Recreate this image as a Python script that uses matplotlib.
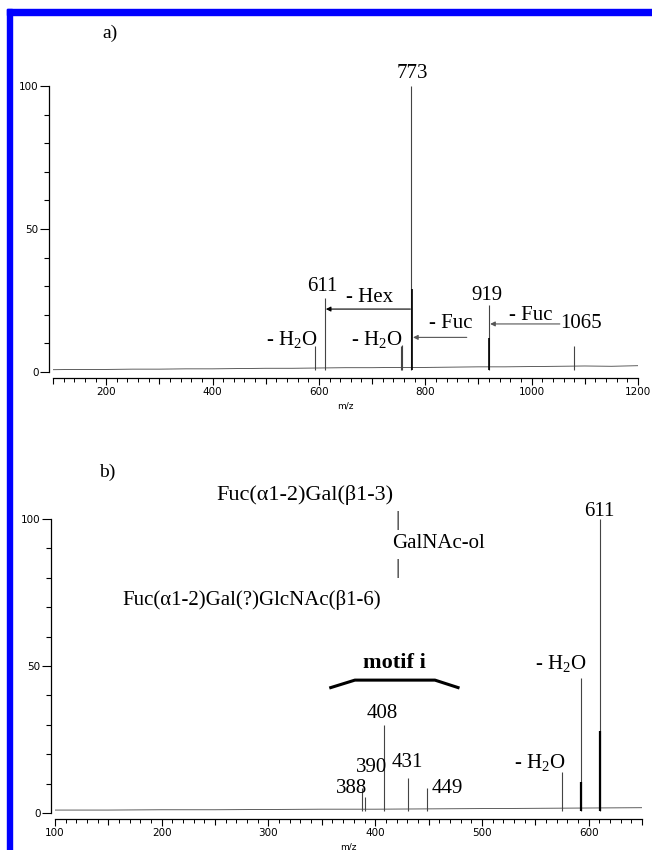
import numpy as np
import matplotlib.pyplot as plt
from matplotlib.patches import Rectangle
from matplotlib.ticker import MultipleLocator, NullLocator

plt.rcParams['font.family'] = ['Liberation Serif', 'DejaVu Serif']
plt.rcParams['mathtext.fontset'] = 'custom'
plt.rcParams['mathtext.rm'] = 'Liberation Serif'
plt.rcParams['mathtext.it'] = 'Liberation Serif:italic'

# ---- panel a data (m/z, relative intensity %) ----
a_mz = [593, 611, 755, 757, 773, 919, 1080]
a_int = [9.2, 26, 9.0, 9.5, 100, 23.5, 9.2]
a_strong_mz = [775, 920]
a_strong_int = [29, 12]
a_base_mz = [100, 150, 200, 250, 300, 350, 400, 450, 500, 550, 600, 650,
             700, 750, 800, 850, 900, 950, 1000, 1050, 1100, 1150, 1200]
a_base = [0.8, 0.9, 0.9, 1.0, 1.0, 1.1, 1.1, 1.2, 1.3, 1.3, 1.4, 1.5,
          1.5, 1.6, 1.6, 1.7, 1.8, 1.8, 1.9, 2.0, 2.1, 2.0, 2.2]

# ---- panel b data ----
b_mz = [388, 390, 408, 431, 449, 575, 593, 611]
b_int = [8.5, 5.5, 30, 12, 8.5, 14, 46, 100]
b_strong_mz = [593, 611]
b_strong_int = [10.5, 28]
b_base_mz = [100, 150, 200, 250, 300, 350, 400, 450, 500, 550, 600, 650]
b_base = [1.0, 1.0, 1.1, 1.1, 1.2, 1.3, 1.3, 1.4, 1.5, 1.6, 1.7, 1.8]

motif_x = [357, 381, 456, 479]
motif_y = [42.5, 45.2, 45.2, 42.5]

fig = plt.figure(figsize=(6.52, 8.5), dpi=100)

# blue frame strips
fig.patches.append(Rectangle((7/652, 0), 5/652, 1 - 9/850, transform=fig.transFigure,
                             color='#0000ff', zorder=0))
fig.patches.append(Rectangle((7/652, 1 - 15/850), 1, 6/850, transform=fig.transFigure,
                             color='#0000ff', zorder=0))

ax_a = fig.add_axes([53/652, (850-378)/850, 585/652, 292/850])
ax_b = fig.add_axes([55/652, (850-819)/850, 587/652, 300/850])


def style(ax, xlim, ylim, major, mid, minor, labels):
    ax.set_xlim(*xlim)
    ax.set_ylim(*ylim)
    ax.patch.set_alpha(0)
    for s in ['top', 'right']:
        ax.spines[s].set_visible(False)
    ax.spines['left'].set_bounds(0, 100)
    ax.spines['left'].set_position(('outward', 3))
    ax.spines['bottom'].set_bounds(*xlim)
    ax.spines['left'].set_linewidth(0.9)
    ax.spines['bottom'].set_linewidth(0.9)
    ax.set_yticks([0, 50, 100])
    ax.yaxis.set_minor_locator(MultipleLocator(10))
    ax.set_xticks(major)
    ax.set_xticklabels(labels)
    ax.xaxis.set_minor_locator(MultipleLocator(minor))
    ax.tick_params(axis='y', which='major', length=6.5, width=0.8, labelsize=7.5, pad=1)
    ax.tick_params(axis='y', which='minor', length=3.5, width=0.8)
    ax.tick_params(axis='x', which='major', length=5, width=0.8, labelsize=7.5, pad=1.5)
    ax.tick_params(axis='x', which='minor', length=2.8, width=0.7)
    plt.setp(ax.get_xticklabels() + ax.get_yticklabels(), family='DejaVu Sans')
    sec = ax.secondary_xaxis('bottom')
    sec.set_xticks(mid)
    sec.xaxis.set_minor_locator(NullLocator())
    sec.tick_params(length=4, width=0.8, labelbottom=False)
    sec.spines['bottom'].set_visible(False)
    ax.set_xlabel('m/z', family='DejaVu Sans', fontsize=6.5, labelpad=3)


style(ax_a, (100, 1200), (-2.1, 100), [200, 400, 600, 800, 1000, 1200],
      [100, 300, 500, 700, 900, 1100], 20, ['200', '400', '600', '800', '1000', '1200'])
style(ax_b, (100, 650), (-2.04, 100), [100, 200, 300, 400, 500, 600],
      [150, 250, 350, 450, 550, 650], 10, ['100', '200', '300', '400', '500', '600'])

# ---- spectra ----
ax_a.plot(a_base_mz, a_base, color='#444444', lw=0.6)
ax_a.vlines(a_mz, 0.8, a_int, color='#444444', lw=0.8)
ax_a.vlines(a_strong_mz, 0.8, a_strong_int, color='black', lw=1.2)

ax_b.plot(b_base_mz, b_base, color='#444444', lw=0.6)
ax_b.vlines(b_mz, 0.8, b_int, color='#444444', lw=0.8)
ax_b.vlines(b_strong_mz, 0.8, b_strong_int, color='black', lw=1.6)

fs = 15
h2o = r'- H$_{\mathrm{2}}$O'

# panel a annotations
ax_a.text(207, 118.5, 'a)', fontsize=14, ha='center', va='center')
ax_a.text(775, 104.2, '773', fontsize=fs, ha='center', va='center')
ax_a.text(606, 30, '611', fontsize=fs, ha='center', va='center')
ax_a.text(696, 26.2, '- Hex', fontsize=fs, ha='center', va='center')
ax_a.text(549, 11.2, h2o, fontsize=fs, ha='center', va='center')
ax_a.text(709, 11.2, h2o, fontsize=fs, ha='center', va='center')
ax_a.text(848, 17.1, '- Fuc', fontsize=fs, ha='center', va='center')
ax_a.text(916, 26.6, '919', fontsize=fs, ha='center', va='center')
ax_a.text(999, 19.9, '- Fuc', fontsize=fs, ha='center', va='center')
ax_a.text(1092, 17.0, '1065', fontsize=fs, ha='center', va='center')
arrow = dict(arrowstyle='-|>', lw=0.8, color='black', mutation_scale=7, shrinkA=0, shrinkB=0)
ax_a.annotate('', xy=(613, 22.0), xytext=(772, 22.0), arrowprops=arrow)
ax_a.annotate('', xy=(777, 12.1), xytext=(878, 12.1),
              arrowprops=dict(arrow, color='#555555'))
ax_a.annotate('', xy=(922, 16.8), xytext=(1053, 16.8),
              arrowprops=dict(arrow, color='#555555'))

# panel b annotations
ax_b.text(148.7, 116, 'b)', fontsize=14, ha='center', va='center')
ax_b.text(334, 108.2, 'Fuc(α1-2)Gal(β1-3)', fontsize=16, ha='center', va='center')
ax_b.text(421, 99.5, '|', fontsize=fs, ha='center', va='center')
ax_b.text(459, 91.8, 'GalNAc-ol', fontsize=fs, ha='center', va='center')
ax_b.text(421, 83, '|', fontsize=fs, ha='center', va='center')
ax_b.text(284.5, 72.4, 'Fuc(α1-2)Gal(?)GlcNAc(β1-6)', fontsize=fs, ha='center', va='center')
ax_b.text(610, 102.4, '611', fontsize=fs, ha='center', va='center')
ax_b.text(574, 50.7, h2o, fontsize=fs, ha='center', va='center')
ax_b.text(554, 17.3, h2o, fontsize=fs, ha='center', va='center')
ax_b.text(418, 51, 'motif i', fontsize=16, fontweight='bold', ha='center', va='center')
ax_b.plot(motif_x, motif_y, color='black', lw=2.2, solid_capstyle='butt')
ax_b.text(407, 34, '408', fontsize=fs, ha='center', va='center')
ax_b.text(397, 15.6, '390', fontsize=fs, ha='center', va='center')
ax_b.text(378, 8.2, '388', fontsize=fs, ha='center', va='center')
ax_b.text(430.5, 17.3, '431', fontsize=fs, ha='center', va='center')
ax_b.text(453, 8.2, '449', fontsize=fs, ha='left', va='center')

fig.savefig('out.png', dpi=100)
